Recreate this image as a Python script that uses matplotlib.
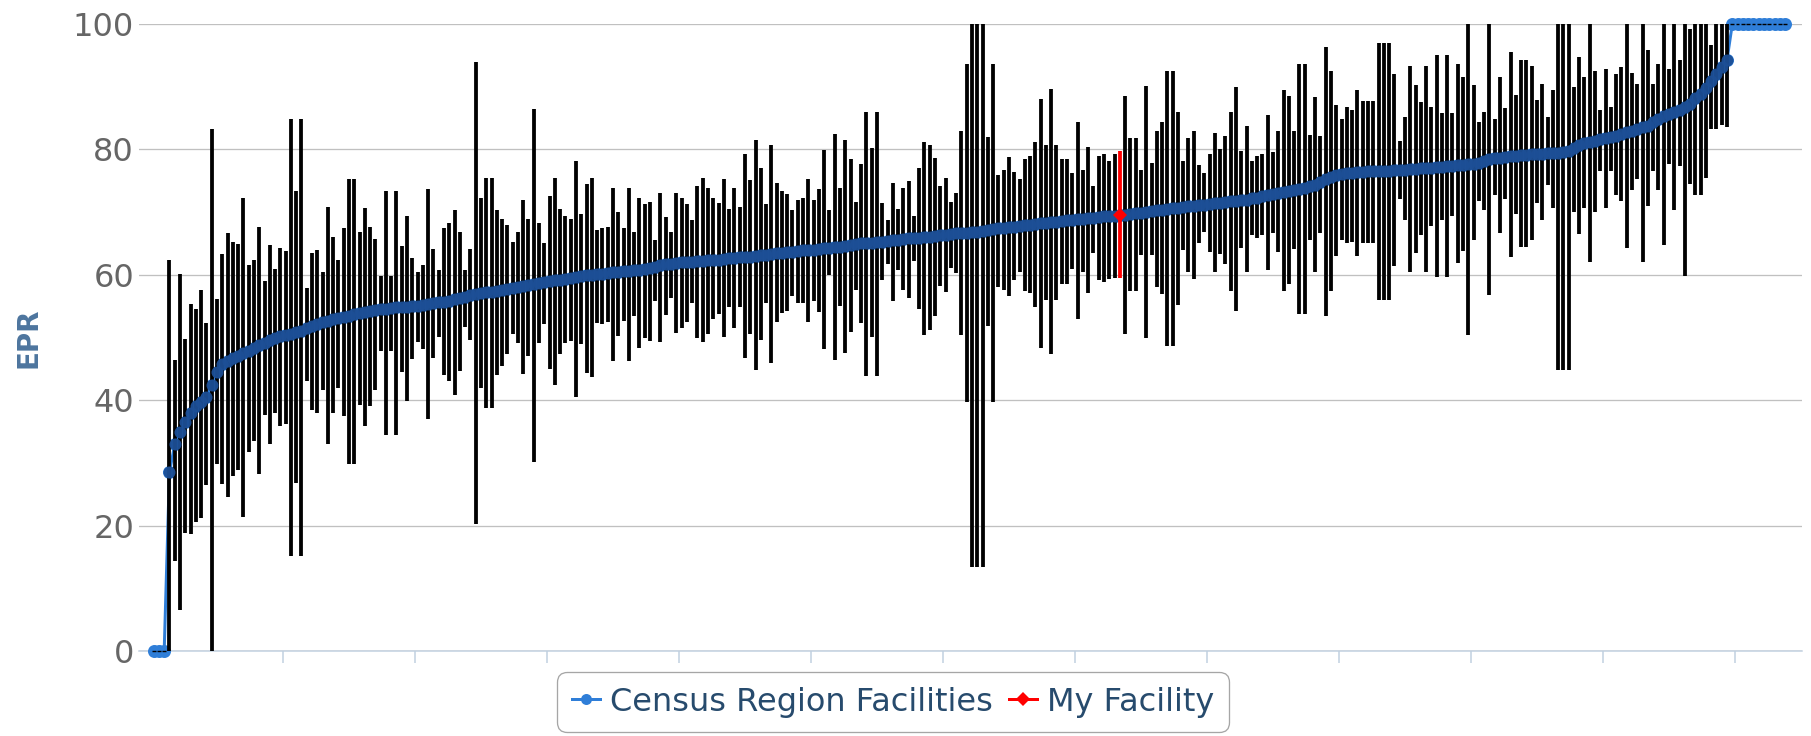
import matplotlib
matplotlib.use("Agg")
import matplotlib.pyplot as plt
from matplotlib.lines import Line2D
import numpy as np

plt.rcParams['font.family'] = ['DejaVu Sans']

# ---------------- data ----------------
# Census region facilities, sorted by EPR (mean) with low/high range
epr_mean = [0.0] * 3 + [
    28.5, 33.0, 35.0, 36.5, 38.0, 39.0, 39.7, 40.5, 42.5, 44.5,
    45.8, 46.3, 46.7, 47.1, 47.5, 47.9, 48.4, 48.8, 49.2, 49.6,
    50.0, 50.2, 50.4, 50.6, 50.8, 51.1, 51.5, 51.8, 52.1, 52.4,
    52.7, 52.9, 53.1, 53.3, 53.5, 53.7, 53.9, 54.1, 54.3, 54.4,
    54.5, 54.6, 54.7, 54.8, 54.8, 54.9, 55.0, 55.1,
] + [
    55.2, 55.3, 55.5, 55.6, 55.7, 55.9, 56.1, 56.3, 56.5, 56.7,
    56.9, 57.1, 57.2, 57.3, 57.4, 57.5, 57.7, 57.9, 58.1, 58.2,
    58.4, 58.5, 58.7, 58.8, 59.0, 59.1, 59.2, 59.4, 59.5, 59.6,
    59.8, 59.9, 60.0, 60.1, 60.2, 60.3, 60.4, 60.5, 60.6, 60.6,
    60.7, 60.8, 61.0, 61.1, 61.3, 61.5, 61.7, 61.8, 61.9, 62.0,
    62.1, 62.1,
] + [
    62.2, 62.2, 62.3, 62.4, 62.4, 62.5, 62.6, 62.7, 62.8, 62.9,
    62.9, 63.0, 63.1, 63.2, 63.3, 63.4, 63.5, 63.6, 63.7, 63.8,
    63.9, 63.9, 64.0, 64.1, 64.2, 64.3, 64.4, 64.5, 64.6, 64.7,
    64.9, 65.0, 65.1, 65.1, 65.2, 65.3, 65.4, 65.5, 65.6, 65.7,
    65.8, 65.9, 65.9, 66.0, 66.1, 66.2, 66.3, 66.4, 66.5, 66.6,
    66.6, 66.7,
] + [
    66.8, 66.9, 67.0, 67.1, 67.3, 67.4, 67.5, 67.6, 67.7, 67.8,
    67.9, 68.0, 68.1, 68.2, 68.3, 68.4, 68.5, 68.6, 68.7, 68.8,
    68.9, 68.9, 69.0, 69.1, 69.2, 69.3, 69.3, 69.4, 69.5, 69.6,
    69.7, 69.8, 69.9, 70.0, 70.1, 70.3, 70.4, 70.5, 70.6, 70.7,
    70.8, 70.9, 71.0, 71.1, 71.2, 71.3, 71.4, 71.5, 71.6, 71.7,
    71.8, 71.9,
] + [
    72.0, 72.2, 72.3, 72.5, 72.7, 72.9, 73.0, 73.2, 73.4, 73.5,
    73.7, 73.9, 74.1, 74.4, 74.8, 75.2, 75.6, 75.9, 76.1, 76.2,
    76.3, 76.4, 76.4, 76.5, 76.5, 76.6, 76.6, 76.6, 76.7, 76.7,
    76.7, 76.8, 76.9, 77.0, 77.0, 77.1, 77.2, 77.2, 77.3, 77.4,
    77.5, 77.5, 77.6, 77.7, 77.9, 78.1, 78.4, 78.6, 78.7, 78.8,
    78.9, 79.0, 79.1,
] + [
    79.1, 79.2, 79.3, 79.3, 79.4, 79.5, 79.5, 79.6, 79.8, 80.2,
    80.7, 81.0, 81.2, 81.4, 81.6, 81.8, 82.0, 82.2, 82.5, 82.7,
    83.0, 83.3, 83.6, 83.8, 84.3, 84.9, 85.3, 85.6, 86.0, 86.3,
    86.7, 87.3, 88.2, 88.9, 89.8, 90.9, 92.0, 93.1, 94.3,
] + [100.0] * 11

epr_high = [0.0] * 3 + [
    62.3, 46.4, 60.2, 49.7, 55.4, 54.6, 57.6, 52.3, 83.2, 56.2,
    63.3, 66.6, 65.2, 64.9, 72.3, 61.5, 62.3, 67.7, 59.0, 64.7,
    61.0, 64.3, 63.8, 84.9, 73.3, 84.9, 57.9, 63.5, 64.0, 60.5,
    70.8, 66.0, 62.3, 67.4, 75.3, 75.3, 66.9, 70.6, 67.7, 65.7,
    59.8, 73.3, 59.8, 73.3, 64.6, 69.4, 62.7, 60.5,
] + [
    61.5, 73.7, 64.1, 60.7, 67.5, 68.3, 70.3, 66.9, 60.7, 64.1,
    93.9, 72.3, 75.5, 75.5, 70.3, 68.9, 67.9, 65.3, 66.8, 71.9,
    68.9, 86.5, 68.2, 65.1, 72.5, 75.5, 70.5, 69.4, 68.9, 78.2,
    69.7, 74.5, 75.5, 67.2, 67.5, 67.7, 73.9, 70.0, 67.4, 73.9,
    66.9, 72.3, 71.3, 71.6, 65.5, 73.0, 69.2, 66.9, 73.0, 72.3,
    71.3, 68.7,
] + [
    74.2, 75.5, 73.9, 72.3, 71.4, 75.3, 70.5, 73.9, 70.8, 79.2,
    75.1, 81.5, 77.0, 71.3, 80.7, 74.7, 73.4, 72.9, 70.3, 71.9,
    72.3, 75.3, 71.9, 73.7, 79.9, 70.3, 82.4, 73.9, 81.5, 78.4,
    71.6, 77.6, 86.0, 80.2, 86.0, 71.4, 68.8, 74.7, 70.5, 73.9,
    75.0, 69.4, 77.0, 81.2, 80.7, 78.7, 74.2, 75.5, 71.6, 73.1,
    82.9, 93.6,
] + [
    100.0, 100.0, 100.0, 81.9, 93.6, 75.9, 76.7, 78.8, 76.4, 75.3,
    78.4, 79.0, 81.2, 88.0, 80.7, 89.7, 80.7, 78.4, 78.4, 76.3,
    84.3, 76.7, 80.4, 74.2, 79.0, 79.2, 78.2, 79.2, 79.8, 88.5,
    81.8, 81.8, 76.7, 90.1, 77.9, 82.9, 84.3, 92.5, 92.5, 86.0,
    78.2, 81.8, 82.9, 77.5, 76.3, 79.2, 82.6, 80.1, 82.1, 86.0,
    89.9, 79.8,
] + [
    83.8, 78.2, 79.0, 79.2, 85.5, 79.6, 82.9, 89.5, 88.5, 82.9,
    93.6, 93.6, 82.3, 88.3, 82.1, 96.4, 92.5, 87.1, 84.9, 86.8,
    86.3, 89.5, 87.7, 87.7, 87.7, 97.0, 97.0, 97.0, 92.0, 81.4,
    85.1, 93.3, 90.3, 87.5, 93.3, 86.8, 95.0, 85.8, 95.0, 85.8,
    93.6, 91.6, 100.0, 90.3, 84.3, 86.0, 100.0, 84.9, 91.6, 86.6,
    95.5, 88.6, 94.2,
] + [
    94.2, 93.3, 87.8, 90.5, 85.1, 89.5, 100.0, 100.0, 100.0, 89.9,
    94.7, 91.5, 100.0, 92.5, 86.3, 92.8, 86.8, 92.0, 93.2, 100.0,
    92.2, 90.5, 100.0, 95.8, 90.5, 93.6, 100.0, 92.8, 100.0, 94.2,
    100.0, 99.2, 100.0, 100.0, 100.0, 96.6, 100.0, 100.0, 100.0,
] + [100.0] * 11

epr_low = [0.0] * 3 + [
    0.0, 14.4, 6.6, 18.8, 18.6, 20.6, 21.2, 26.5, 0.0, 29.8,
    26.6, 24.5, 27.9, 28.8, 21.4, 31.8, 33.5, 28.2, 37.7, 33.0,
    38.0, 35.9, 36.2, 15.2, 26.8, 15.2, 43.0, 38.4, 37.9, 41.7,
    33.0, 38.0, 41.9, 37.5, 29.9, 29.9, 39.2, 35.9, 39.0, 41.7,
    47.9, 34.4, 47.9, 34.4, 44.5, 39.8, 46.5, 49.3,
] + [
    48.1, 37.0, 46.8, 50.1, 44.0, 43.1, 40.9, 44.6, 51.6, 49.6,
    20.3, 42.0, 38.7, 38.7, 44.0, 45.4, 47.3, 50.5, 49.1, 44.2,
    47.1, 30.2, 49.1, 52.1, 45.0, 42.4, 47.3, 49.1, 49.4, 40.5,
    48.9, 44.4, 43.7, 52.3, 52.1, 52.4, 46.2, 50.3, 52.6, 46.2,
    53.5, 48.4, 49.9, 49.4, 55.8, 49.3, 53.6, 56.3, 50.7, 51.5,
    52.4, 55.5,
] + [
    49.9, 49.3, 50.6, 52.9, 53.8, 50.1, 54.8, 51.5, 54.8, 46.7,
    50.6, 44.8, 49.6, 55.5, 45.9, 52.4, 53.9, 54.3, 56.6, 55.5,
    55.5, 52.4, 55.8, 54.1, 48.1, 60.0, 46.4, 55.1, 47.6, 50.9,
    57.6, 52.3, 43.9, 50.1, 43.9, 59.1, 61.7, 55.8, 60.8, 57.6,
    56.3, 62.2, 54.6, 50.4, 51.2, 53.5, 58.2, 57.2, 61.1, 60.3,
    50.4, 39.7,
] + [
    13.4, 13.4, 13.4, 51.9, 39.7, 58.0, 57.6, 56.6, 59.1, 60.5,
    57.4, 57.1, 54.8, 48.4, 56.0, 47.3, 56.0, 58.5, 58.5, 61.0,
    52.9, 60.5, 57.1, 63.5, 59.1, 58.8, 59.4, 59.5, 59.5, 50.6,
    57.4, 57.4, 63.1, 49.9, 63.1, 58.0, 57.0, 48.7, 48.7, 55.2,
    63.9, 60.5, 59.4, 65.0, 66.8, 63.7, 60.5, 63.3, 61.7, 57.4,
    54.3, 64.3,
] + [
    60.5, 66.4, 65.8, 66.4, 60.8, 66.7, 63.7, 57.4, 58.5, 64.1,
    53.8, 53.8, 65.5, 60.5, 66.7, 53.5, 57.4, 63.0, 65.5, 65.0,
    65.3, 63.0, 65.0, 65.0, 65.0, 56.0, 56.0, 56.0, 61.4, 72.1,
    68.7, 60.5, 63.5, 66.4, 60.5, 67.8, 59.7, 68.7, 59.7, 69.4,
    61.9, 63.8, 50.4, 65.5, 71.7, 70.4, 56.8, 72.7, 66.7, 72.1,
    62.9, 69.7, 64.5,
] + [
    64.5, 65.5, 71.5, 68.7, 74.4, 70.7, 44.8, 44.8, 44.8, 70.0,
    66.5, 70.7, 62.0, 70.0, 76.5, 70.7, 76.5, 72.7, 71.8, 64.2,
    73.5, 75.2, 62.0, 71.0, 76.5, 73.5, 64.8, 77.7, 70.4, 77.4,
    59.8, 74.5, 72.7, 72.7, 75.4, 83.2, 83.2, 83.9, 83.6,
] + [100.0] * 11

# My facility (position in the sorted list, value, range)
my_facility_index = 183
my_facility_mean = 69.5
my_facility_low = 59.5
my_facility_high = 79.8

y_ticks = [0, 20, 40, 60, 80, 100]
series_labels = ["Census Region Facilities", "My Facility"]

assert len(epr_mean) == len(epr_high) == len(epr_low) == 310

# ---------------- styling ----------------
BLUE = '#2f7ed8'
DARK_BLUE = '#1d4f96'
RED = '#ff0000'
PX = 72.0 / 100.0  # points per pixel at dpi 100

LEFT, RIGHT, TOP, BOTTOM = 139, 1802, 24, 651
fig = plt.figure(figsize=(18.11, 7.36), dpi=100)
ax = fig.add_axes([LEFT / 1811, 1 - BOTTOM / 736, (RIGHT - LEFT) / 1811, (BOTTOM - TOP) / 736])

x = np.arange(len(epr_mean))
mean = np.array(epr_mean)
high = np.array(epr_high)
low = np.array(epr_low)

ax.set_xlim(-2.77, 312.2)
ax.set_ylim(0, 100)

# grid
ax.set_yticks(y_ticks)
ax.yaxis.grid(True, color='#c0c0c0', linewidth=1.3 * PX)
ax.set_axisbelow(True)
for side in ('left', 'right', 'top'):
    ax.spines[side].set_visible(False)
ax.spines['bottom'].set_color('#c0d0e0')
ax.spines['bottom'].set_linewidth(1.5 * PX)
ax.spines['bottom'].set_zorder(0.5)

# x ticks between category groups (no labels)
ax.set_xticks([24.5 + 25 * k for k in range(12)])
ax.set_xticklabels([])
ax.tick_params(axis='x', length=12 * PX, width=1.5 * PX, color='#c0d0e0', direction='out')
ax.tick_params(axis='y', length=0, pad=5 * PX, labelsize=23, labelcolor='#666666')

# series line (under the error bars)
ax.plot(x, mean, color=BLUE, linewidth=3 * PX, marker='o', markersize=13 * PX,
        markeredgewidth=0, zorder=1, clip_on=False)

# error bars
has_range = high > low
not_mine = x != my_facility_index
m = has_range & not_mine
ax.vlines(x[m], low[m], high[m], colors='black', linewidth=3.8 * PX, zorder=2)

# markers of points with a range show over the bars
ax.plot(x[has_range], mean[has_range], linestyle='none', marker='o', markersize=12 * PX,
        markeredgewidth=0, color=DARK_BLUE, alpha=0.95, zorder=3, clip_on=False)

# zero-height error bars show as whisker dashes
z = ~has_range
ax.hlines(mean[z], x[z] - 0.36, x[z] + 0.36, colors='black', linewidth=1.4 * PX,
          zorder=5, clip_on=False)

# my facility
ax.vlines([my_facility_index], [my_facility_low], [my_facility_high], colors=RED,
          linewidth=3.8 * PX, zorder=4)
ax.plot([my_facility_index], [my_facility_mean], marker='D', color=RED,
        markersize=10 * PX, markeredgewidth=0, zorder=6)

# y label
ax.set_ylabel('EPR', fontsize=20, fontweight='bold', color='#4d759e')
ax.yaxis.set_label_coords(-0.058, 0.5)

# legend
handles = [
    Line2D([0], [0], color=BLUE, linewidth=3 * PX, marker='o', markersize=11 * PX, markeredgewidth=0),
    Line2D([0], [0], color=RED, linewidth=3 * PX, marker='D', markersize=10 * PX, markeredgewidth=0),
]
leg = fig.legend(handles, series_labels, loc='center', bbox_to_anchor=(893 / 1811, 1 - 702 / 736),
                 ncol=2, fontsize=23, frameon=True, fancybox=True, edgecolor='#909090',
                 facecolor='white', handlelength=0.9, handletextpad=0.3, columnspacing=0.5,
                 borderpad=0.25, labelcolor='#274b6d')
leg.get_frame().set_linewidth(1.3 * PX)
leg.get_frame().set_boxstyle('round,pad=0.2,rounding_size=0.3')

fig.savefig('out.png', dpi=100)
